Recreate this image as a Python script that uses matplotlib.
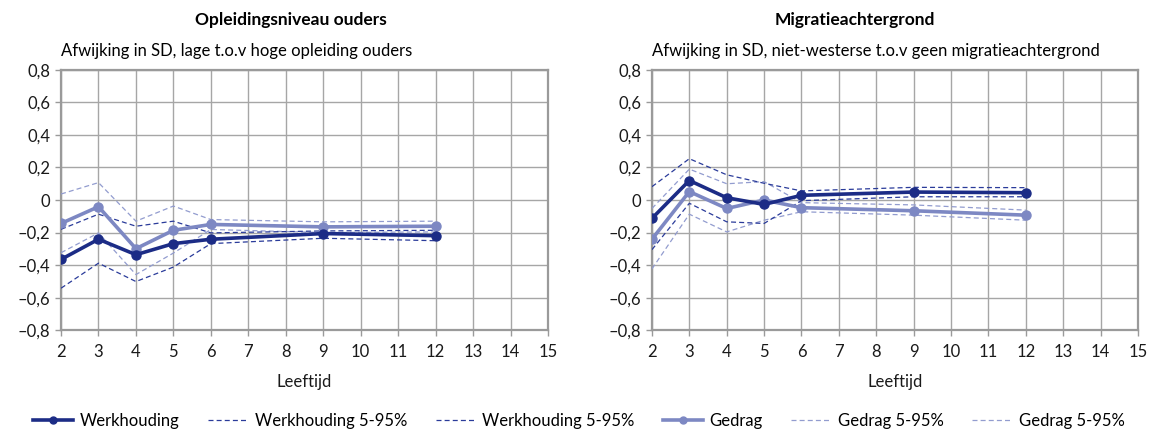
import matplotlib
matplotlib.use("Agg")
import matplotlib.pyplot as plt
from matplotlib.ticker import FuncFormatter

plt.rcParams["font.family"] = ["Lato", "DejaVu Sans"]

leeftijd = [2, 3, 4, 5, 6, 9, 12]
x_ticks = list(range(2, 16))
y_ticks = [-0.8, -0.6, -0.4, -0.2, 0, 0.2, 0.4, 0.6, 0.8]

# Opleidingsniveau ouders
opl_werk = [-0.365, -0.241, -0.336, -0.268, -0.241, -0.206, -0.219]
opl_werk_lo = [-0.542, -0.388, -0.501, -0.412, -0.268, -0.235, -0.25]
opl_werk_hi = [-0.18, -0.087, -0.161, -0.13, -0.202, -0.19, -0.186]
opl_gedrag = [-0.144, -0.041, -0.299, -0.186, -0.15, -0.165, -0.161]
opl_gedrag_lo = [-0.324, -0.202, -0.458, -0.326, -0.181, -0.2, -0.196]
opl_gedrag_hi = [0.037, 0.107, -0.13, -0.037, -0.12, -0.134, -0.13]

# Migratieachtergrond
mig_werk = [-0.113, 0.12, 0.014, -0.027, 0.029, 0.049, 0.045]
mig_werk_lo = [-0.305, -0.02, -0.134, -0.144, -0.004, 0.02, 0.02]
mig_werk_hi = [0.082, 0.254, 0.155, 0.103, 0.056, 0.078, 0.076]
mig_gedrag = [-0.241, 0.052, -0.052, 0.0, -0.047, -0.066, -0.093]
mig_gedrag_lo = [-0.423, -0.087, -0.196, -0.124, -0.072, -0.093, -0.124]
mig_gedrag_hi = [-0.052, 0.19, 0.1, 0.113, -0.016, -0.03, -0.062]

DARK = "#1c2c86"
LIGHT = "#7d88c3"
DARK_DASH = "#2a3b9a"
LIGHT_DASH = "#929ccf"
GRID = "#a6a6a6"


def fmt(v, _):
    if abs(v) < 1e-9:
        return "0"
    s = f"{abs(v):.1f}".replace(".", ",")
    return ("\u2013" + s) if v < 0 else s


def draw(ax, werk, werk_lo, werk_hi, gedrag, gedrag_lo, gedrag_hi):
    ax.plot(leeftijd, gedrag_hi, ls=(0, (4, 2.5)), lw=0.9, color=LIGHT_DASH, zorder=3)
    ax.plot(leeftijd, gedrag_lo, ls=(0, (4, 2.5)), lw=0.9, color=LIGHT_DASH, zorder=3)
    ax.plot(leeftijd, werk_hi, ls=(0, (4, 2.5)), lw=0.9, color=DARK_DASH, zorder=3)
    ax.plot(leeftijd, werk_lo, ls=(0, (4, 2.5)), lw=0.9, color=DARK_DASH, zorder=3)
    ax.plot(leeftijd, gedrag, color=LIGHT, lw=2.6, marker="o", ms=6.5, zorder=4)
    ax.plot(leeftijd, werk, color=DARK, lw=2.6, marker="o", ms=6.5, zorder=5)

    ax.set_xlim(2, 15)
    ax.set_ylim(-0.8, 0.8)
    ax.set_xticks(x_ticks)
    ax.set_yticks(y_ticks)
    ax.yaxis.set_major_formatter(FuncFormatter(fmt))
    ax.grid(True, color=GRID, lw=1.0)
    ax.set_axisbelow(True)
    for sp in ax.spines.values():
        sp.set_color("#9a9a9a")
        sp.set_linewidth(1.6)
    ax.tick_params(axis="both", colors="#9a9a9a", labelcolor="#1a1a1a",
                   labelsize=12, length=4, width=1)
    ax.tick_params(axis="x", pad=6)
    ax.set_xlabel("Leeftijd", fontsize=12, labelpad=10, color="#1a1a1a")


fig = plt.figure(figsize=(11.58, 4.45), dpi=100)
ax1 = fig.add_axes([0.0527, 0.258, 0.4205, 0.585])
ax2 = fig.add_axes([0.5630, 0.258, 0.4197, 0.585])

draw(ax1, opl_werk, opl_werk_lo, opl_werk_hi, opl_gedrag, opl_gedrag_lo, opl_gedrag_hi)
draw(ax2, mig_werk, mig_werk_lo, mig_werk_hi, mig_gedrag, mig_gedrag_lo, mig_gedrag_hi)

fig.text(0.251, 0.955, "Opleidingsniveau ouders", ha="center", va="center",
         fontsize=12.5, fontweight="bold")
fig.text(0.738, 0.955, "Migratieachtergrond", ha="center", va="center",
         fontsize=12.5, fontweight="bold")
ax1.text(0.0, 1.04, "Afwijking in SD, lage t.o.v hoge opleiding ouders",
         transform=ax1.transAxes, ha="left", va="bottom", fontsize=12)
ax2.text(0.0, 1.04, "Afwijking in SD, niet-westerse t.o.v geen migratieachtergrond",
         transform=ax2.transAxes, ha="left", va="bottom", fontsize=12)

handles = [
    plt.Line2D([], [], color=DARK, lw=2.6, marker="o", ms=5),
    plt.Line2D([], [], color=DARK_DASH, lw=0.9, ls=(0, (4, 2.5))),
    plt.Line2D([], [], color=DARK_DASH, lw=0.9, ls=(0, (4, 2.5))),
    plt.Line2D([], [], color=LIGHT, lw=2.6, marker="o", ms=5),
    plt.Line2D([], [], color=LIGHT_DASH, lw=0.9, ls=(0, (4, 2.5))),
    plt.Line2D([], [], color=LIGHT_DASH, lw=0.9, ls=(0, (4, 2.5))),
]
labels = ["Werkhouding", "Werkhouding 5-95%", "Werkhouding 5-95%",
          "Gedrag", "Gedrag 5-95%", "Gedrag 5-95%"]
fig.legend(handles, labels, loc="center", bbox_to_anchor=(0.5, 0.055), ncol=6,
           frameon=False, fontsize=12, handlelength=2.4, handletextpad=0.4,
           columnspacing=1.7)

fig.savefig("out.png", dpi=100, facecolor="white")
